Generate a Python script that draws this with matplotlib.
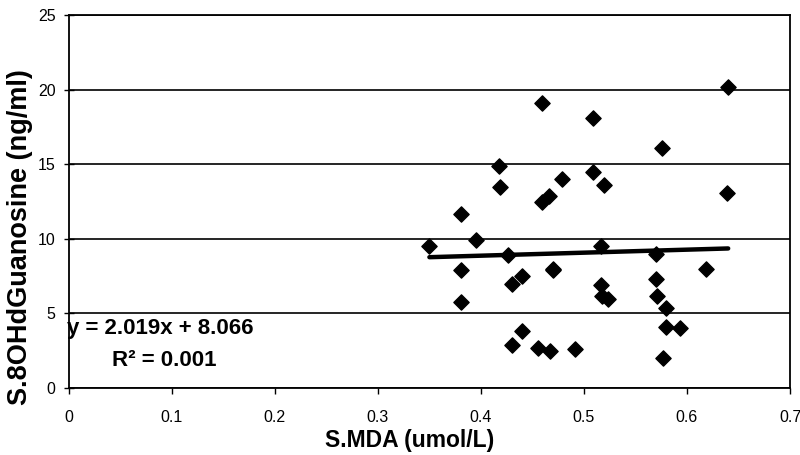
import matplotlib
matplotlib.use("Agg")
import matplotlib.pyplot as plt
import numpy as np

plt.rcParams['font.family'] = ['Liberation Sans', 'DejaVu Sans']

# S.MDA (umol/L) vs S.8OHdGuanosine (ng/ml)
mda = [0.350, 0.381, 0.381, 0.381, 0.395, 0.418, 0.419, 0.426, 0.430, 0.430,
       0.440, 0.440, 0.455, 0.459, 0.459, 0.466, 0.467, 0.470, 0.470, 0.479,
       0.491, 0.509, 0.509, 0.517, 0.517, 0.518, 0.519, 0.523, 0.570, 0.570,
       0.571, 0.576, 0.577, 0.580, 0.580, 0.593, 0.618, 0.639, 0.640]
ohdg = [9.5, 11.7, 7.9, 5.8, 9.9, 14.9, 13.5, 8.9, 7.0, 2.9,
        7.5, 3.8, 2.7, 19.1, 12.5, 12.9, 2.5, 8.0, 7.9, 14.0,
        2.6, 18.1, 14.5, 9.5, 6.9, 6.2, 13.6, 5.95, 9.0, 7.3,
        6.2, 16.1, 2.0, 5.35, 4.1, 4.0, 8.0, 13.1, 20.2]

slope, intercept = 2.019, 8.066
r2 = 0.001

fig = plt.figure(figsize=(8, 4.55), dpi=100)
ax = fig.add_axes([0.086, 0.147, 0.9015, 0.82])

ax.scatter(mda, ohdg, marker="D", s=60, color="black", zorder=3)

xt = np.array([min(mda), max(mda)])
ax.plot(xt, slope * xt + intercept, color="black", lw=3.2, solid_capstyle="round", zorder=4)

ax.set_xlim(0, 0.7)
ax.set_ylim(0, 25)
ax.set_xticks(np.arange(0, 0.71, 0.1))
ax.set_xticklabels(["0", "0.1", "0.2", "0.3", "0.4", "0.5", "0.6", "0.7"])
ax.set_yticks(np.arange(0, 26, 5))
ax.yaxis.grid(True, color="black", lw=1.2)
ax.set_axisbelow(True)
for s in ax.spines.values():
    s.set_linewidth(1.3)
ax.tick_params(axis="x", direction="out", length=4, width=1, pad=12, labelsize=11.5)
ax.tick_params(axis="y", direction="inout", length=7, width=1, pad=6, labelsize=11.5)

ax.set_xlabel("S.MDA (umol/L)", fontsize=16.5, fontweight="bold")
ax.xaxis.set_label_coords(0.473, -0.11)
ax.set_ylabel("S.8OHdGuanosine (ng/ml)", fontsize=19.5, fontweight="bold")
ax.yaxis.set_label_coords(-0.05, 0.405)

ax.text(-0.002, 4.0, "y = 2.019x + 8.066", fontsize=16, fontweight="bold", va="center", ha="left")
ax.text(0.042, 1.85, f"R² = {r2:.3f}", fontsize=16, fontweight="bold", va="center", ha="left")

fig.savefig("out.png", dpi=100)
